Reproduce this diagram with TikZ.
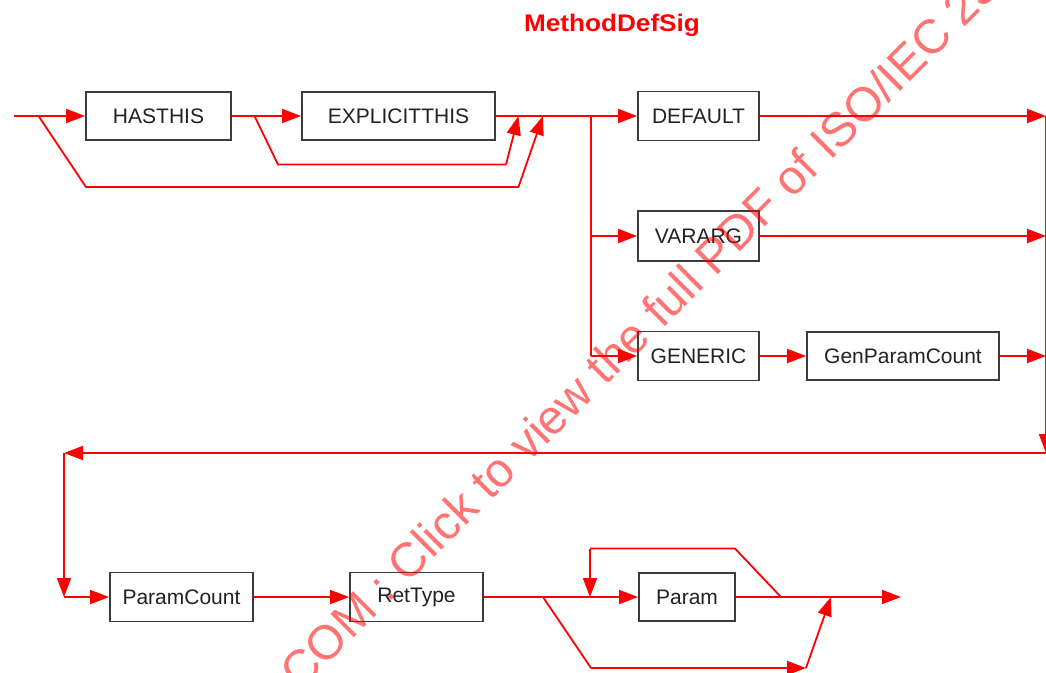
\documentclass[tikz,border=0pt]{standalone}
\usepackage{fontspec}
\setmainfont{Liberation Sans}
\usetikzlibrary{arrows.meta}
\definecolor{boxline}{RGB}{60,60,60}
\definecolor{boxtext}{RGB}{34,34,34}
\definecolor{flowred}{RGB}{255,0,0}
\tikzset{
  blk/.style={draw=boxline, line width=1.8pt, fill=white, inner sep=0pt,
    minimum height=48pt, text=boxtext, font=\fontsize{21}{25}\selectfont},
  flow/.style={draw=flowred, line width=1.8pt},
  arr/.style={flow, -{Triangle[length=19pt,width=14pt]}},
}
\begin{document}
\begin{tikzpicture}[x=1pt, y=-1pt]
\useasboundingbox (0,0) rectangle (1046,672);
\clip (0,0) rectangle (1046,672);

% title
\node[text=flowred, font=\fontsize{24}{28}\selectfont\bfseries] (title) at (612,25)
  {\scalebox{1.09}[1]{MethodDefSig}};

% boxes, first part
\node[blk, minimum width=145pt] (hasthis) at (158.5,116) {HASTHIS};
\node[blk, minimum width=193pt] (explicit) at (398.5,116) {EXPLICITTHIS};
\node[blk, minimum width=121pt, minimum height=49pt] (default) at (698.5,116) {DEFAULT};
\node[blk, minimum width=121pt, minimum height=50pt] (vararg) at (698.5,236) {VARARG};
\node[blk, minimum width=121pt, minimum height=49pt] (generic) at (698.5,356) {GENERIC};
\node[blk, minimum width=192pt] (gpc) at (903,356) {GenParamCount};

% boxes, second part
\node[blk, minimum width=143pt, minimum height=49pt] (pcount) at (181.5,597) {ParamCount};
\node[blk, minimum width=133pt, minimum height=49pt] (rettype) at (416.5,597) {RetType};
\node[blk, minimum width=96pt] (param) at (687,597) {Param};

% junction points
\coordinate (in) at (14,116);
\coordinate (s1) at (38.5,116);
\coordinate (s1a) at (86,187);
\coordinate (s1b) at (518.5,187);
\coordinate (m2) at (543,116);
\coordinate (s2) at (254.5,116);
\coordinate (s2a) at (278,164.5);
\coordinate (s2b) at (506,164.5);
\coordinate (m1) at (518.5,116);
\coordinate (br) at (591,116);
\coordinate (brv) at (591,236);
\coordinate (brg) at (591,356);
\coordinate (outd) at (1046,116);
\coordinate (outv) at (1046,236);
\coordinate (outg) at (1046,356);
\coordinate (rtop) at (1046,116);
\coordinate (rbot) at (1046,453);
\coordinate (lt) at (64,453);
\coordinate (lb) at (64,597);
\coordinate (lpa) at (781,597);
\coordinate (lpb) at (735,548.5);
\coordinate (lpc) at (590,548.5);
\coordinate (lpd) at (590,597);
\coordinate (bpa) at (543,597);
\coordinate (bpb) at (591,668);
\coordinate (bpc) at (806,668);
\coordinate (bpd) at (831,597);
\coordinate (end) at (901,597);

% first row
\draw[arr] (in) -- (hasthis.west);
\draw[arr] (hasthis.east) -- (explicit.west);
\draw[arr] (explicit.east) -- (default.west);
\draw[flow] (s2) -- (s2a) -- (s2b);
\draw[arr] (s2b) -- (m1);
\draw[flow] (s1) -- (s1a) -- (s1b);
\draw[arr] (s1b) -- (m2);

% branches
\draw[flow] (br) -- (brg);
\draw[arr] (brv) -- (vararg.west);
\draw[arr] (brg) -- (generic.west);
\draw[arr] (default.east) -- (outd);
\draw[arr] (vararg.east) -- (outv);
\draw[arr] (generic.east) -- (gpc.west);
\draw[arr] (gpc.east) -- (outg);

% return to the second row
\draw[arr] (rtop) -- (rbot);
\draw[arr] (rbot) -- (lt);
\draw[arr] (lt) -- (lb);
\draw[arr] (lb) -- (pcount.west);

% second row
\draw[arr] (pcount.east) -- (rettype.west);
\draw[arr] (rettype.east) -- (param.west);
\draw[arr] (param.east) -- (end);
\draw[flow] (lpa) -- (lpb) -- (lpc);
\draw[arr] (lpc) -- (lpd);
\draw[flow] (bpa) -- (bpb);
\draw[arr] (bpb) -- (bpc);
\draw[arr] (bpc) -- (bpd);

% watermark
\node[anchor=base west, rotate=45, text=flowred, text opacity=0.55,
  inner sep=0pt, font=\fontsize{48}{52}\selectfont] (wm) at (300,692)
  {COM : Click to view the full PDF of ISO/IEC 23};
\end{tikzpicture}
\end{document}
